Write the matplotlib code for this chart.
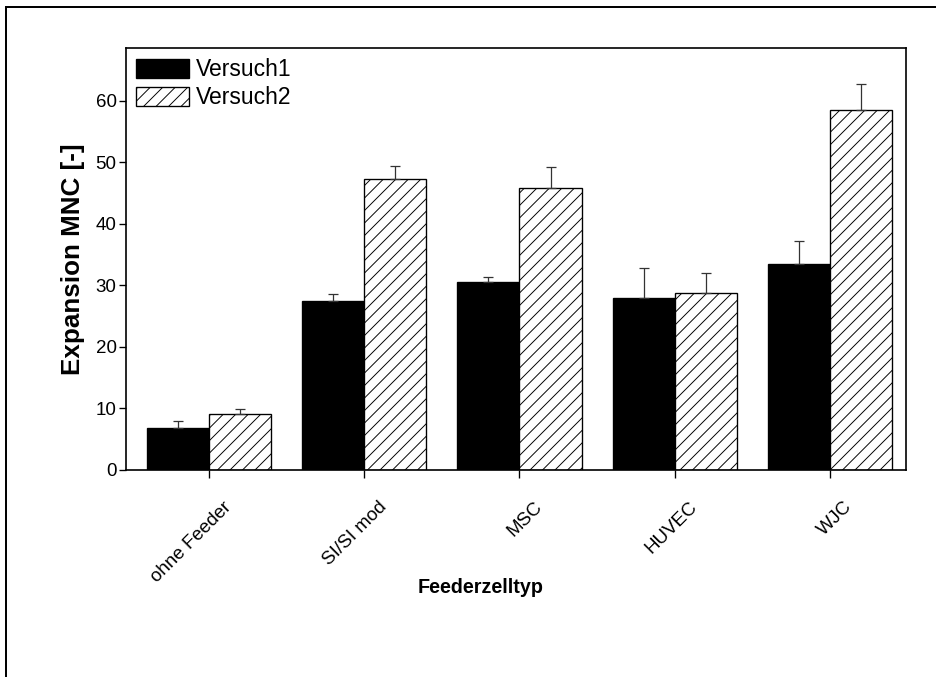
import matplotlib.pyplot as plt
import matplotlib.patches as mpatches
import matplotlib.transforms as mtransforms
import numpy as np

# Feeder cell types and expansion results of the two runs
categories = ["ohne Feeder", "SI/SI mod", "MSC", "HUVEC", "WJC"]
versuch1 = [6.8, 27.5, 30.5, 27.9, 33.5]
versuch1_err = [1.15, 1.1, 0.9, 4.9, 3.8]
versuch2 = [9.1, 47.3, 45.9, 28.8, 58.6]
versuch2_err = [0.75, 2.1, 3.3, 3.2, 4.1]
yticks = [0, 10, 20, 30, 40, 50, 60]

plt.rcParams["font.family"] = ["Liberation Sans", "DejaVu Sans"]
plt.rcParams["hatch.linewidth"] = 0.9
plt.rcParams["hatch.color"] = "#222222"

W, H, DPI = 936, 677, 75
figure = plt.figure(figsize=(W / DPI, H / DPI), dpi=DPI)
axes = figure.add_axes([126 / W, 1 - 470 / H, (906 - 126) / W, (470 - 48) / H])

# Outer frame around the whole graphic
frame = mpatches.Rectangle((6 / W, -0.2), 1.2, 1.2 - 7 / H, transform=figure.transFigure,
                           fill=False, edgecolor="black", linewidth=1.9)
figure.patches.append(frame)

x = np.arange(1, len(categories) + 1)
width = 0.4
zeros = np.zeros(len(categories))

axes.bar(x - width / 2, versuch1, width, color="black", edgecolor="black", linewidth=1.3,
         label="Versuch1")
axes.bar(x + width / 2, versuch2, width, color="white", edgecolor="black", linewidth=1.3,
         hatch="//", label="Versuch2")
axes.errorbar(x - width / 2, versuch1, yerr=[zeros, versuch1_err], fmt="none",
              ecolor="#333333", elinewidth=1.2, capsize=5, capthick=1.2)
axes.errorbar(x + width / 2, versuch2, yerr=[zeros, versuch2_err], fmt="none",
              ecolor="#333333", elinewidth=1.2, capsize=5, capthick=1.2)

axes.set_xlim(0.465, 5.49)
axes.set_ylim(0, 68.6)
axes.set_yticks(yticks)
axes.set_xticks(x)
axes.set_xticklabels(categories, rotation=45, ha="right", va="top", rotation_mode="anchor")
axes.tick_params(direction="out", length=7, width=1.3, labelsize=18, pad=2)
axes.tick_params(axis="x", length=8, pad=4)
shift = mtransforms.ScaledTranslation(14 / DPI, -16 / DPI, figure.dpi_scale_trans)
for label in axes.get_xticklabels():
    label.set_transform(label.get_transform() + shift)
for spine in axes.spines.values():
    spine.set_linewidth(1.6)

axes.set_ylabel("Expansion MNC [-]", fontsize=25, fontweight="bold", labelpad=10)
axes.set_xlabel("Feederzelltyp", fontsize=19, fontweight="bold")
axes.xaxis.set_label_coords(0.455, -0.255)

axes.legend(loc="upper left", frameon=False, fontsize=22, handlelength=2.3, handleheight=0.85,
            handletextpad=0.3, labelspacing=0.22, borderaxespad=0.25, borderpad=0.2)

figure.savefig("out.png", dpi=DPI)
